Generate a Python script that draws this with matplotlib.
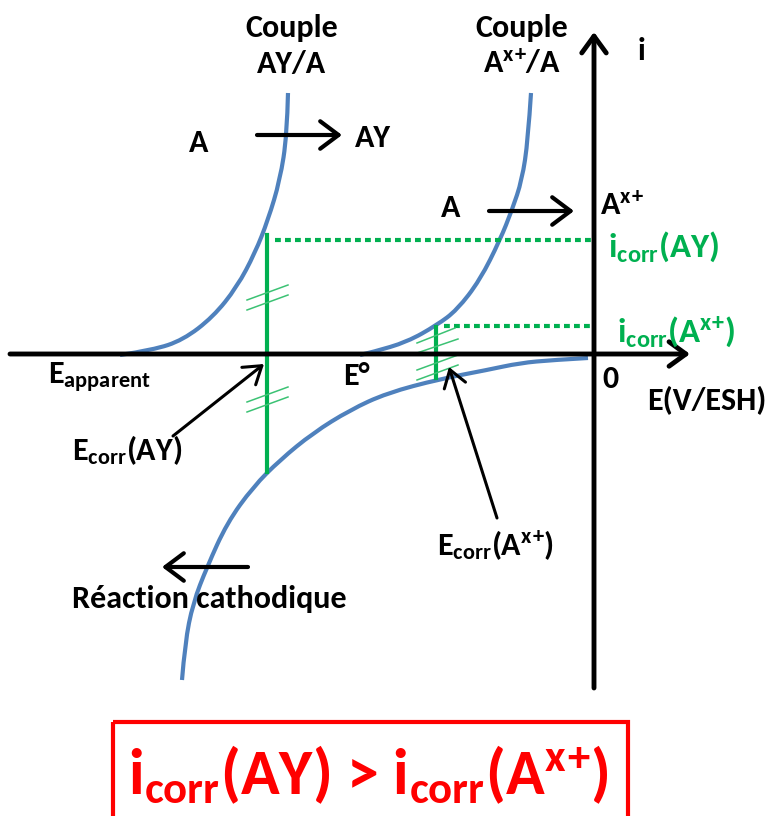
import matplotlib
matplotlib.use("Agg")
import matplotlib.pyplot as plt
from matplotlib.patches import Rectangle, PathPatch
from matplotlib.path import Path

plt.rcParams["font.family"] = ["Carlito", "DejaVu Sans"]
plt.rcParams["font.weight"] = "bold"
plt.rcParams["mathtext.fontset"] = "custom"
plt.rcParams["mathtext.rm"] = "Carlito:bold"
plt.rcParams["mathtext.it"] = "Carlito:bold"
plt.rcParams["mathtext.bf"] = "Carlito:bold"

# courbe anodique du couple AY/A
ay_E = [120, 153, 183, 213, 237, 255, 268, 280, 287, 288]
ay_i = [355, 350, 340, 317, 287, 253, 220, 180, 135, 93]

# courbe anodique du couple Ax+/A
ax_E = [360, 373, 407, 437, 457, 480, 500, 512, 522, 528, 531]
ax_i = [355, 352, 342, 325, 310, 280, 240, 210, 180, 140, 93]

# courbe cathodique
cat_E = [182, 185, 193, 207, 227, 253, 280, 313, 350, 387, 440, 487, 520, 553, 588]
cat_i = [680, 643, 603, 567, 523, 487, 460, 433, 410, 393, 379, 370, 363, 360, 358]

# potentiels et courants de corrosion
ecorr_E = [267, 436]
icorr_i = [240, 326]
ecorr_bottom = [472, 378]
ecorr_top = [235, 327]

# traits de hachure sur les segments verts
hatch_AY = [((247, 300), (288, 285)), ((247, 310), (288, 295)),
            ((247, 402), (288, 387)), ((247, 412), (288, 397))]
hatch_AX = [((417, 343), (455, 328)), ((417, 353), (458, 339)),
            ((417, 370), (458, 355)), ((417, 380), (458, 365))]

blue = "#4F81BD"
green = "#00B050"
red = "#FF0000"
XP = r"$^{\mathrm{x}}$$^{+}$"


def smooth_curve(xs, ys):
    # courbe de Bézier quadratique passant par les milieux des points lus
    pts = list(zip(xs, ys))
    verts = [pts[0]]
    codes = [Path.MOVETO]
    for k in range(1, len(pts) - 2):
        mid = ((pts[k][0] + pts[k + 1][0]) / 2, (pts[k][1] + pts[k + 1][1]) / 2)
        verts += [pts[k], mid]
        codes += [Path.CURVE3, Path.CURVE3]
    verts += [pts[-2], pts[-1]]
    codes += [Path.CURVE3, Path.CURVE3]
    return PathPatch(Path(verts, codes), fill=False, edgecolor=blue, lw=3,
                     capstyle="butt")


fig = plt.figure(figsize=(7.78, 8.16), dpi=100)
ax = fig.add_axes([0, 0, 1, 1])
ax.set_xlim(0, 778)
ax.set_ylim(816, 0)
ax.axis("off")

# axes E et i
axis_arrow = dict(arrowstyle="->,head_length=0.55,head_width=0.4", lw=3.5,
                  color="black", shrinkA=0, shrinkB=0, mutation_scale=22)
ax.annotate("", xy=(690, 354), xytext=(10, 354), arrowprops=axis_arrow)
ax.annotate("", xy=(594, 32), xytext=(594, 688), arrowprops=axis_arrow)

# courbes i = f(E)
ax.add_patch(smooth_curve(ay_E, ay_i))
ax.add_patch(smooth_curve(ax_E, ax_i))
ax.add_patch(smooth_curve(cat_E, cat_i))

# segments verts et pointillés vers l'axe i
for e, top, bot, i in zip(ecorr_E, ecorr_top, ecorr_bottom, icorr_i):
    ax.plot([e, e], [top, bot], color=green, lw=3)
    ax.plot([e + 8, 592], [i, i], color=green, lw=3, linestyle=(0, (1.4, 1.0)))
for (x0, y0), (x1, y1) in hatch_AY + hatch_AX:
    ax.plot([x0, x1], [y0, y1], color="#3CC274", lw=1.1)

# flèches de réaction
react_arrow = dict(arrowstyle="->,head_length=0.6,head_width=0.45", lw=3,
                   color="black", shrinkA=0, shrinkB=0, mutation_scale=22)
ax.annotate("", xy=(342, 135), xytext=(257, 135), arrowprops=react_arrow)
ax.annotate("", xy=(574, 211), xytext=(489, 211), arrowprops=react_arrow)
ax.annotate("", xy=(162, 567), xytext=(248, 567), arrowprops=react_arrow)

# flèches vers les potentiels de corrosion
lead_arrow = dict(arrowstyle="->,head_length=0.6,head_width=0.4", lw=2.2,
                  color="black", shrinkA=0, shrinkB=0, mutation_scale=20)
ax.annotate("", xy=(264, 364), xytext=(173, 436), arrowprops=lead_arrow)
ax.annotate("", xy=(449, 367), xytext=(497, 518), arrowprops=lead_arrow)

fs = 23
ax.text(292, 37, "Couple", ha="center", va="baseline", fontsize=fs)
ax.text(292, 73, "AY/A", ha="center", va="baseline", fontsize=fs)
ax.text(522, 37, "Couple", ha="center", va="baseline", fontsize=fs)
ax.text(522, 73, "A" + XP + "/A", ha="center", va="baseline", fontsize=fs)
ax.text(642, 60, "i", ha="center", va="baseline", fontsize=fs)

ax.text(199, 152, "A", ha="center", va="baseline", fontsize=fs)
ax.text(355, 147, "AY", ha="left", va="baseline", fontsize=fs)
ax.text(451, 217, "A", ha="center", va="baseline", fontsize=fs)
ax.text(600, 215, "A" + XP, ha="left", va="baseline", fontsize=fs)

ax.text(608, 257, r"i$_{\mathrm{corr}}$(AY)", ha="left", va="baseline",
        fontsize=25, color=green)
ax.text(617, 342, r"i$_{\mathrm{corr}}$(A" + XP + ")", ha="left",
        va="baseline", fontsize=25, color=green)

ax.text(48, 384, r"E$_{\mathrm{apparent}}$", ha="left", va="baseline", fontsize=fs)
ax.text(343, 385, "E°", ha="left", va="baseline", fontsize=fs)
ax.text(602, 388, "0", ha="left", va="baseline", fontsize=fs)
ax.text(647, 410, "E(V/ESH)", ha="left", va="baseline", fontsize=fs)
ax.text(72, 460, r"E$_{\mathrm{corr}}$(AY)", ha="left", va="baseline", fontsize=fs)
ax.text(437, 555, r"E$_{\mathrm{corr}}$(A" + XP + ")", ha="left",
        va="baseline", fontsize=fs)
ax.text(72, 608, "Réaction cathodique", ha="left", va="baseline", fontsize=fs)

# conclusion encadrée
ax.add_patch(Rectangle((113, 722), 515, 120, fill=False, edgecolor=red, lw=3))
ax.text(368, 794, r"i$_{\mathrm{corr}}$(AY) > i$_{\mathrm{corr}}$(A" + XP + ")",
        ha="center", va="baseline", fontsize=46, color=red)

fig.savefig("out.png", dpi=100)
